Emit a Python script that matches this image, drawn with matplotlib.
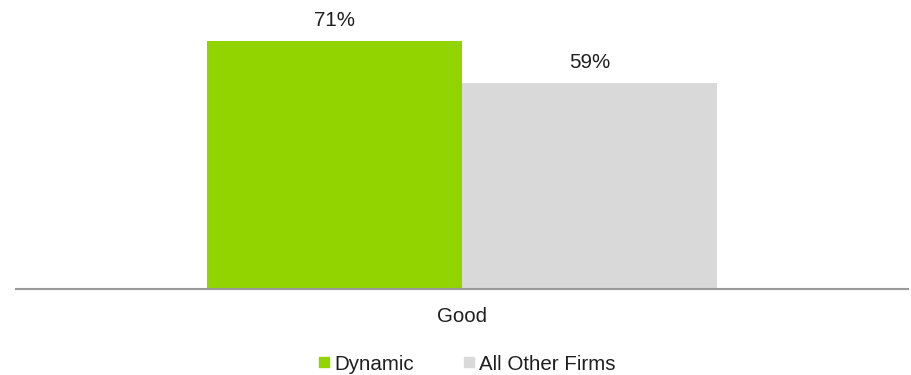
import matplotlib.pyplot as plt
from matplotlib.lines import Line2D

categories = ['Good']
series_names = ['Dynamic', 'All Other Firms']
series_values = [71, 59]
series_colors = ['#92D400', '#D9D9D9']

plt.rcParams['font.family'] = ['Liberation Sans', 'DejaVu Sans']
text_color = '#1F1F1F'

fig = plt.figure(figsize=(9.11, 3.75), dpi=100)
ax = fig.add_axes([16 / 911, 86 / 375, 892 / 911, 289 / 375])

width = 0.286
offsets = [-width / 2, width / 2]
for name, val, color, off in zip(series_names, series_values, series_colors, offsets):
    bars = ax.bar([off], [val], width=width, color=color, label=name)
    ax.annotate('%d%%' % val, (off, val), xytext=(0, 10.8), textcoords='offset points',
                ha='center', va='baseline', fontsize=14.8, color=text_color)

ax.set_xlim(-0.5, 0.5)
ax.set_ylim(0, 82.8)
ax.set_xticks([0])
ax.set_xticklabels(categories, fontsize=14.8, color=text_color)
ax.tick_params(axis='x', length=0, pad=13)
ax.set_yticks([])
for side in ['top', 'left', 'right']:
    ax.spines[side].set_visible(False)
ax.spines['bottom'].set_color('#9A9A9A')
ax.spines['bottom'].set_linewidth(1.5)

handles = [Line2D([], [], marker='s', linestyle='none', markersize=7.9,
                  markerfacecolor=c, markeredgecolor=c) for c in series_colors]
fig.legend(handles, series_names, loc='center', bbox_to_anchor=(467 / 911, 1 - 364 / 375),
           ncol=2, frameon=False, fontsize=14.8, handlelength=0.52, handletextpad=0.24,
           columnspacing=2.43, borderpad=0, labelcolor=text_color)

fig.savefig('out.png', dpi=100)
plt.close(fig)
